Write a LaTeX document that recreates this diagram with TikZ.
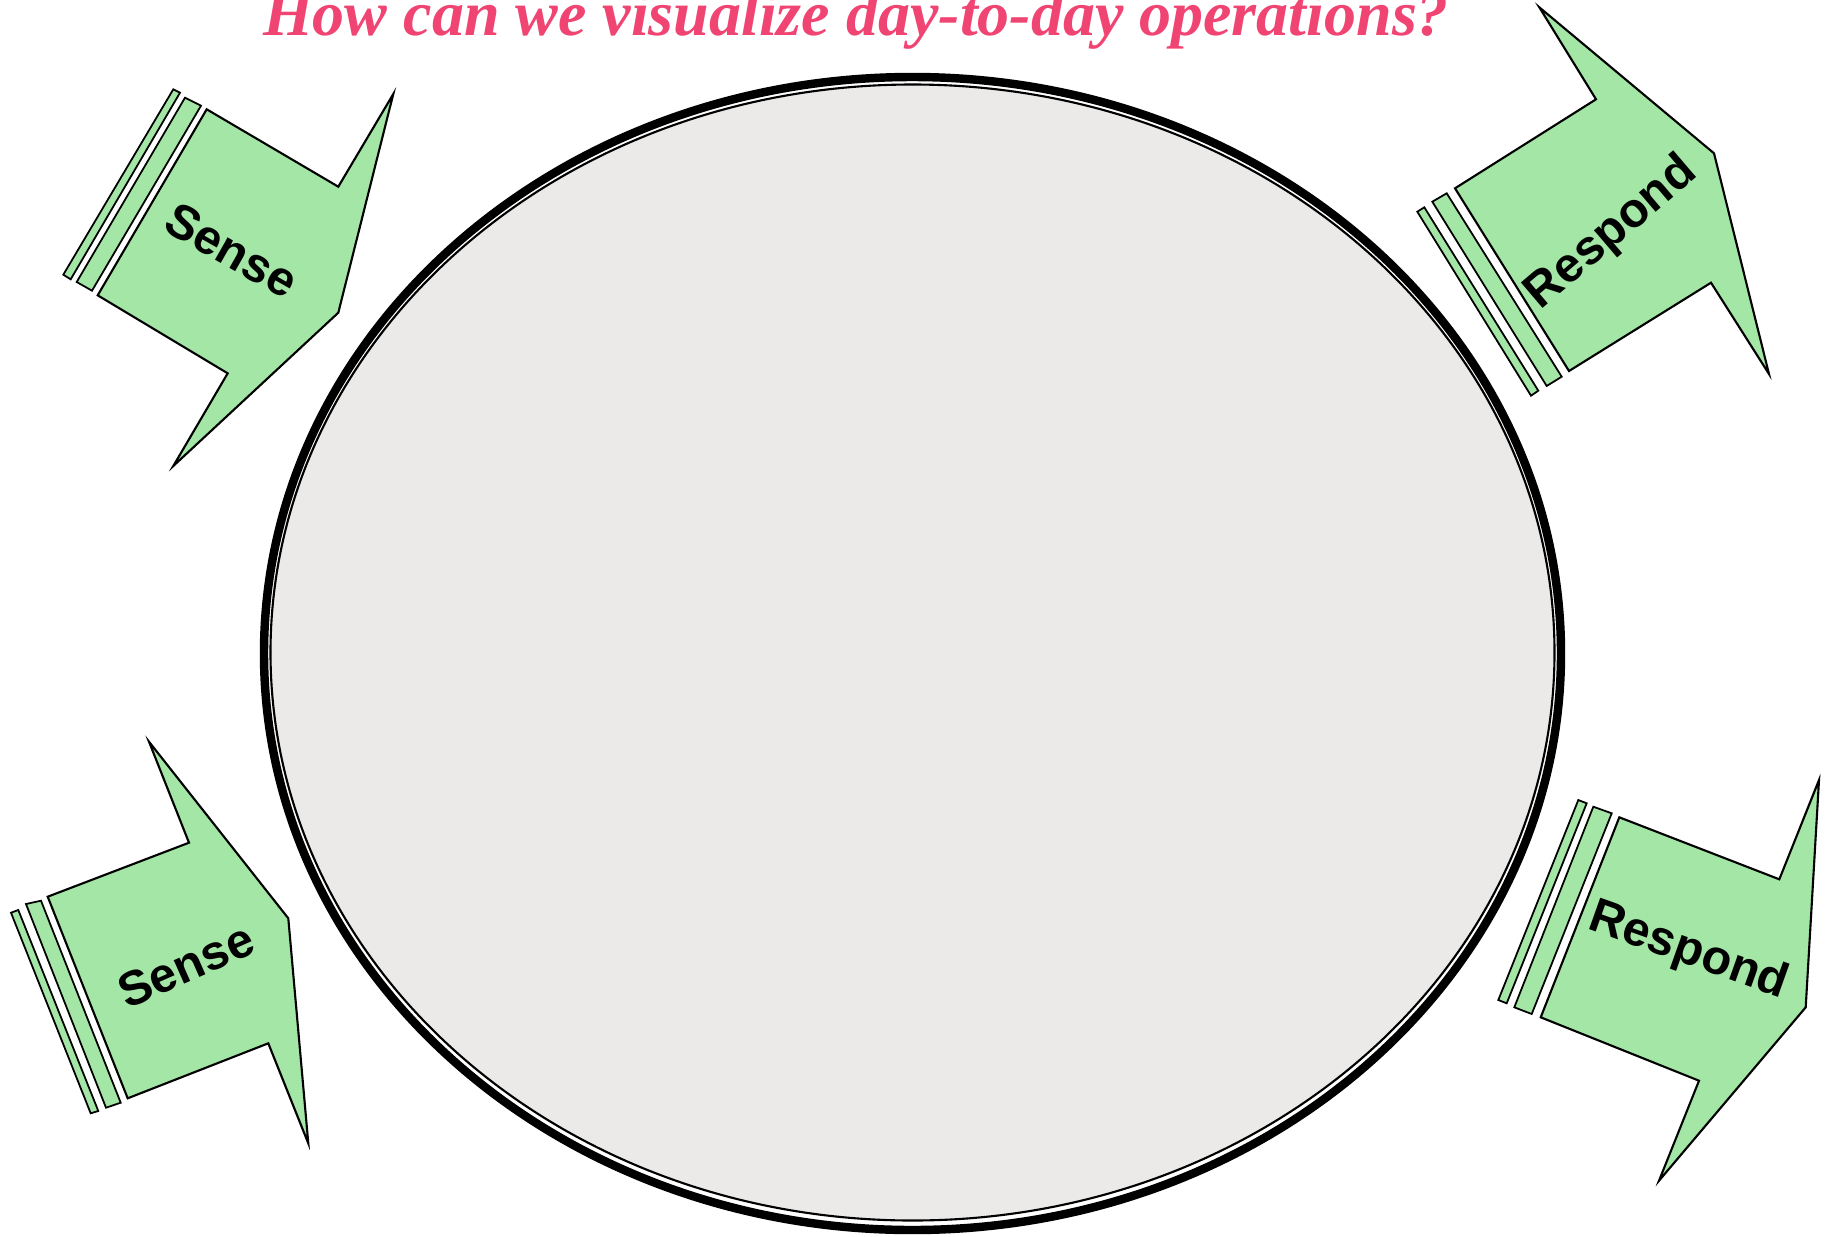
\documentclass[tikz,border=0pt]{standalone}
\usepackage{fontspec}
\setmainfont{Liberation Serif}
\newfontfamily\labelfont{Liberation Sans}
\usetikzlibrary{calc}
\definecolor{titlepink}{HTML}{F04473}
\definecolor{arrowgreen}{HTML}{A3E6A6}
\definecolor{discgray}{HTML}{EBEAE8}
\tikzset{
  block/.style={fill=arrowgreen, draw=black, line width=0.6pt, line join=miter},
  stripe/.style={fill=arrowgreen, draw=black, line width=0.5pt},
  tag/.style={font=\labelfont\bfseries\fontsize{13.8}{14}\selectfont, inner sep=0pt},
  every node/.append style={font=\rmfamily}
}
\begin{document}
\begin{tikzpicture}[x=0.01cm, y=-0.01cm]
\useasboundingbox (0,0) rectangle (1830,1236);
% disc
\draw[line width=2.4pt] (912.5,653.5) ellipse [x radius=648.5, y radius=576.5];
\filldraw[fill=discgray, draw=black, line width=0.6pt] (912.5,652.5) ellipse [x radius=642, y radius=568];
\node[anchor=base, text=titlepink, font=\rmfamily\bfseries\itshape\fontsize{18.2}{20}\selectfont] (title) at (856,35) {How can we visualize day-to-day operations?};
% sense, top left
\draw[stripe] (173.3,89.3) -- (180,92.7) -- (70.7,279.3) -- (63.3,274.7) -- cycle;
\draw[stripe] (185,97.7) -- (201,105.7) -- (92,290.7) -- (76.7,282) -- cycle;
\draw[block] (206.7,109.3) -- (338.3,186.7) -- (393.3,94) -- (338.3,312.7) -- (173.3,466) -- (227.7,373.3) -- (97.7,295.3) -- cycle;
\node[tag, rotate=-29.6] (senseA) at (231.7,250) {Sense};
% sense, bottom left
\draw[stripe] (11,912.7) -- (18.3,910) -- (98.3,1111) -- (90.7,1113.3) -- cycle;
\draw[stripe] (26,904) -- (41,900.7) -- (120.7,1102.7) -- (106,1107.7) -- cycle;
\draw[block] (47.7,896.7) -- (189,842.7) -- (149,741.7) -- (288.3,918.3) -- (308.3,1143.3) -- (268.3,1043.3) -- (127.7,1098.3) -- cycle;
\node[tag, rotate=23.8] (senseB) at (185.7,965) {Sense};
% respond, top right
\draw[stripe] (1417.3,211.7) -- (1424.3,207.3) -- (1538.3,390.7) -- (1531,395.7) -- cycle;
\draw[stripe] (1432.3,201.7) -- (1446.7,193.3) -- (1561.7,376.7) -- (1546.7,386) -- cycle;
\draw[block] (1455,188.3) -- (1596,99.3) -- (1539.3,7.3) -- (1714,153.3) -- (1769,374) -- (1711,282.7) -- (1569,371) -- cycle;
\node[tag, rotate=40.4] (respondA) at (1611.7,233.3) {Respond};
% respond, bottom right
\draw[stripe] (1578.3,800) -- (1586.7,803.3) -- (1506.7,1003.3) -- (1498.3,1000) -- cycle;
\draw[stripe] (1593.3,806.7) -- (1611.7,813.3) -- (1531.7,1014) -- (1514.3,1007.3) -- cycle;
\draw[block] (1619.3,817.3) -- (1779.3,879.3) -- (1819,780) -- (1805.7,1007.3) -- (1659,1180.7) -- (1699,1080.7) -- (1540.7,1017.3) -- cycle;
\node[tag, rotate=-19.6] (respondB) at (1688.3,951.7) {Respond};
\end{tikzpicture}
\end{document}
